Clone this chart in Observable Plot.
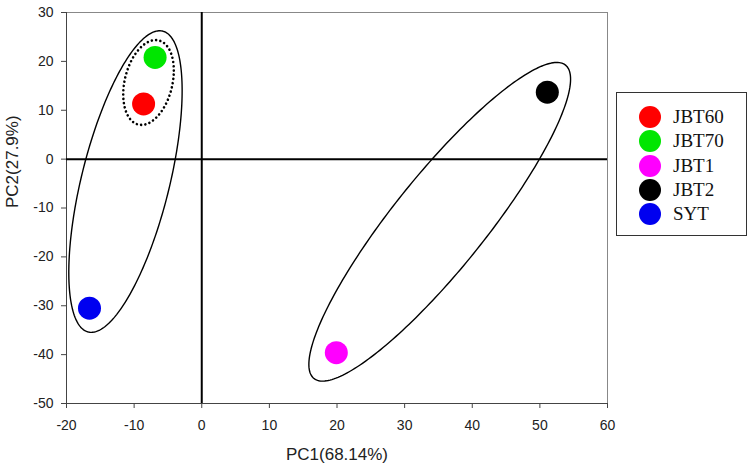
<!DOCTYPE html>
<html>
<head>
<meta charset="utf-8">
<script src="https://cdn.jsdelivr.net/npm/d3@7"></script>
<script src="https://cdn.jsdelivr.net/npm/@observablehq/plot@0.6"></script>
<style>
  html, body { margin: 0; padding: 0; background: #fff; }
  #wrap { position: relative; width: 750px; height: 472px; }
  #legend {
    position: absolute; left: 616px; top: 92px; width: 131px; height: 144px;
    border: 1px solid #333; box-sizing: border-box; background: #fff;
  }
  .row { position: absolute; left: 0; height: 24px; display: flex; align-items: center; }
  .sw { width: 22px; height: 22px; border-radius: 50%; margin-left: 22px; margin-right: 12px; }
  .lab { font-family: "Liberation Serif", "Times New Roman", Times, serif; font-size: 19px; color: #111; }
</style>
</head>
<body>
<div id="wrap"></div>
<script>
// ---- data ----
const samples = ["JBT60", "JBT70", "JBT1", "JBT2", "SYT"];
const pc1 = [-8.6, -6.9, 19.9, 51.1, -16.6];
const pc2 = [11.3, 20.8, -39.6, 13.7, -30.5];
const colors = ["#ff0000", "#00e600", "#ff00ff", "#000000", "#0000f0"];

const xTicks = [-20, -10, 0, 10, 20, 30, 40, 50, 60];
const yTicks = [-50, -40, -30, -20, -10, 0, 10, 20, 30];

// confidence ellipses: center, semi-extent in x and y, correlation, dotted?
const ellipseNames = ["left", "inner", "right"];
const ellipseCx = [-11.28, -7.87, 35.19];
const ellipseCy = [-4.59, 15.68, -12.82];
const ellipseRx = [8.38, 3.74, 19.35];
const ellipseRy = [30.85, 8.68, 32.6];
const ellipseRho = [0.603, 0.28, 0.895];
const ellipseDotted = [false, true, false];

// ---- build tables ----
const points = samples.map((s, i) => ({sample: s, pc1: pc1[i], pc2: pc2[i], color: colors[i]}));

const outline = [];
ellipseNames.forEach((name, k) => {
  const th = Math.acos(ellipseRho[k]);
  const n = 240;
  for (let j = 0; j <= n; j++) {
    const t = (2 * Math.PI * j) / n;
    outline.push({
      name, dotted: ellipseDotted[k],
      x: ellipseCx[k] + ellipseRx[k] * Math.cos(t),
      y: ellipseCy[k] + ellipseRy[k] * Math.cos(t - th)
    });
  }
});

const fmt = d => String(d);

const chart = Plot.plot({
  width: 750,
  height: 472,
  marginLeft: 66,
  marginRight: 143,
  marginTop: 12,
  marginBottom: 69,
  style: {fontFamily: "'Liberation Sans', Arial, sans-serif", fontSize: "14px", color: "#222", background: "#fff"},
  x: {domain: [-20, 60]},
  y: {domain: [-50, 30]},
  marks: [
    Plot.ruleY([30], {stroke: "#888", strokeWidth: 1}),
    Plot.ruleX([60], {stroke: "#888", strokeWidth: 1}),
    Plot.ruleX([-20], {stroke: "#444", strokeWidth: 1}),
    Plot.ruleY([-50], {stroke: "#444", strokeWidth: 1}),
    Plot.ruleX([0], {stroke: "#000", strokeWidth: 2}),
    Plot.ruleY([0], {stroke: "#000", strokeWidth: 2}),
    Plot.axisX({ticks: xTicks, tickFormat: fmt, tickSize: 5, tickPadding: 12, label: null, stroke: "#444", fill: "#222", fontSize: 14}),
    Plot.axisY({ticks: yTicks, tickFormat: fmt, tickSize: 5, tickPadding: 8, label: null, stroke: "#444", fill: "#222", fontSize: 14}),
    Plot.line(outline.filter(d => !d.dotted), {x: "x", y: "y", z: "name", stroke: "#000", strokeWidth: 1.4, curve: "linear"}),
    Plot.line(outline.filter(d => d.dotted), {x: "x", y: "y", z: "name", stroke: "#000", strokeWidth: 2.6,
      strokeDasharray: "0.01 4.3", strokeLinecap: "round"}),
    Plot.dot(points, {x: "pc1", y: "pc2", r: 11.5, fill: "color", stroke: "none"}),
    Plot.text(["PC1(68.14%)"], {frameAnchor: "bottom", dy: 56, fontSize: 17, fill: "#222"}),
    Plot.text(["PC2(27.9%)"], {frameAnchor: "left", dx: -54, rotate: -90, fontSize: 17, fill: "#222"})
  ]
});

const wrap = document.getElementById("wrap");
wrap.appendChild(chart);

const legend = document.createElement("div");
legend.id = "legend";
samples.forEach((s, i) => {
  const row = document.createElement("div");
  row.className = "row";
  row.style.top = (12 + i * 24.3) + "px";
  const sw = document.createElement("span");
  sw.className = "sw";
  sw.style.background = colors[i];
  const lab = document.createElement("span");
  lab.className = "lab";
  lab.style.fontFamily = "'Liberation Serif', serif";
  lab.textContent = s;
  row.appendChild(sw);
  row.appendChild(lab);
  legend.appendChild(row);
});
wrap.appendChild(legend);
</script>
</body>
</html>
